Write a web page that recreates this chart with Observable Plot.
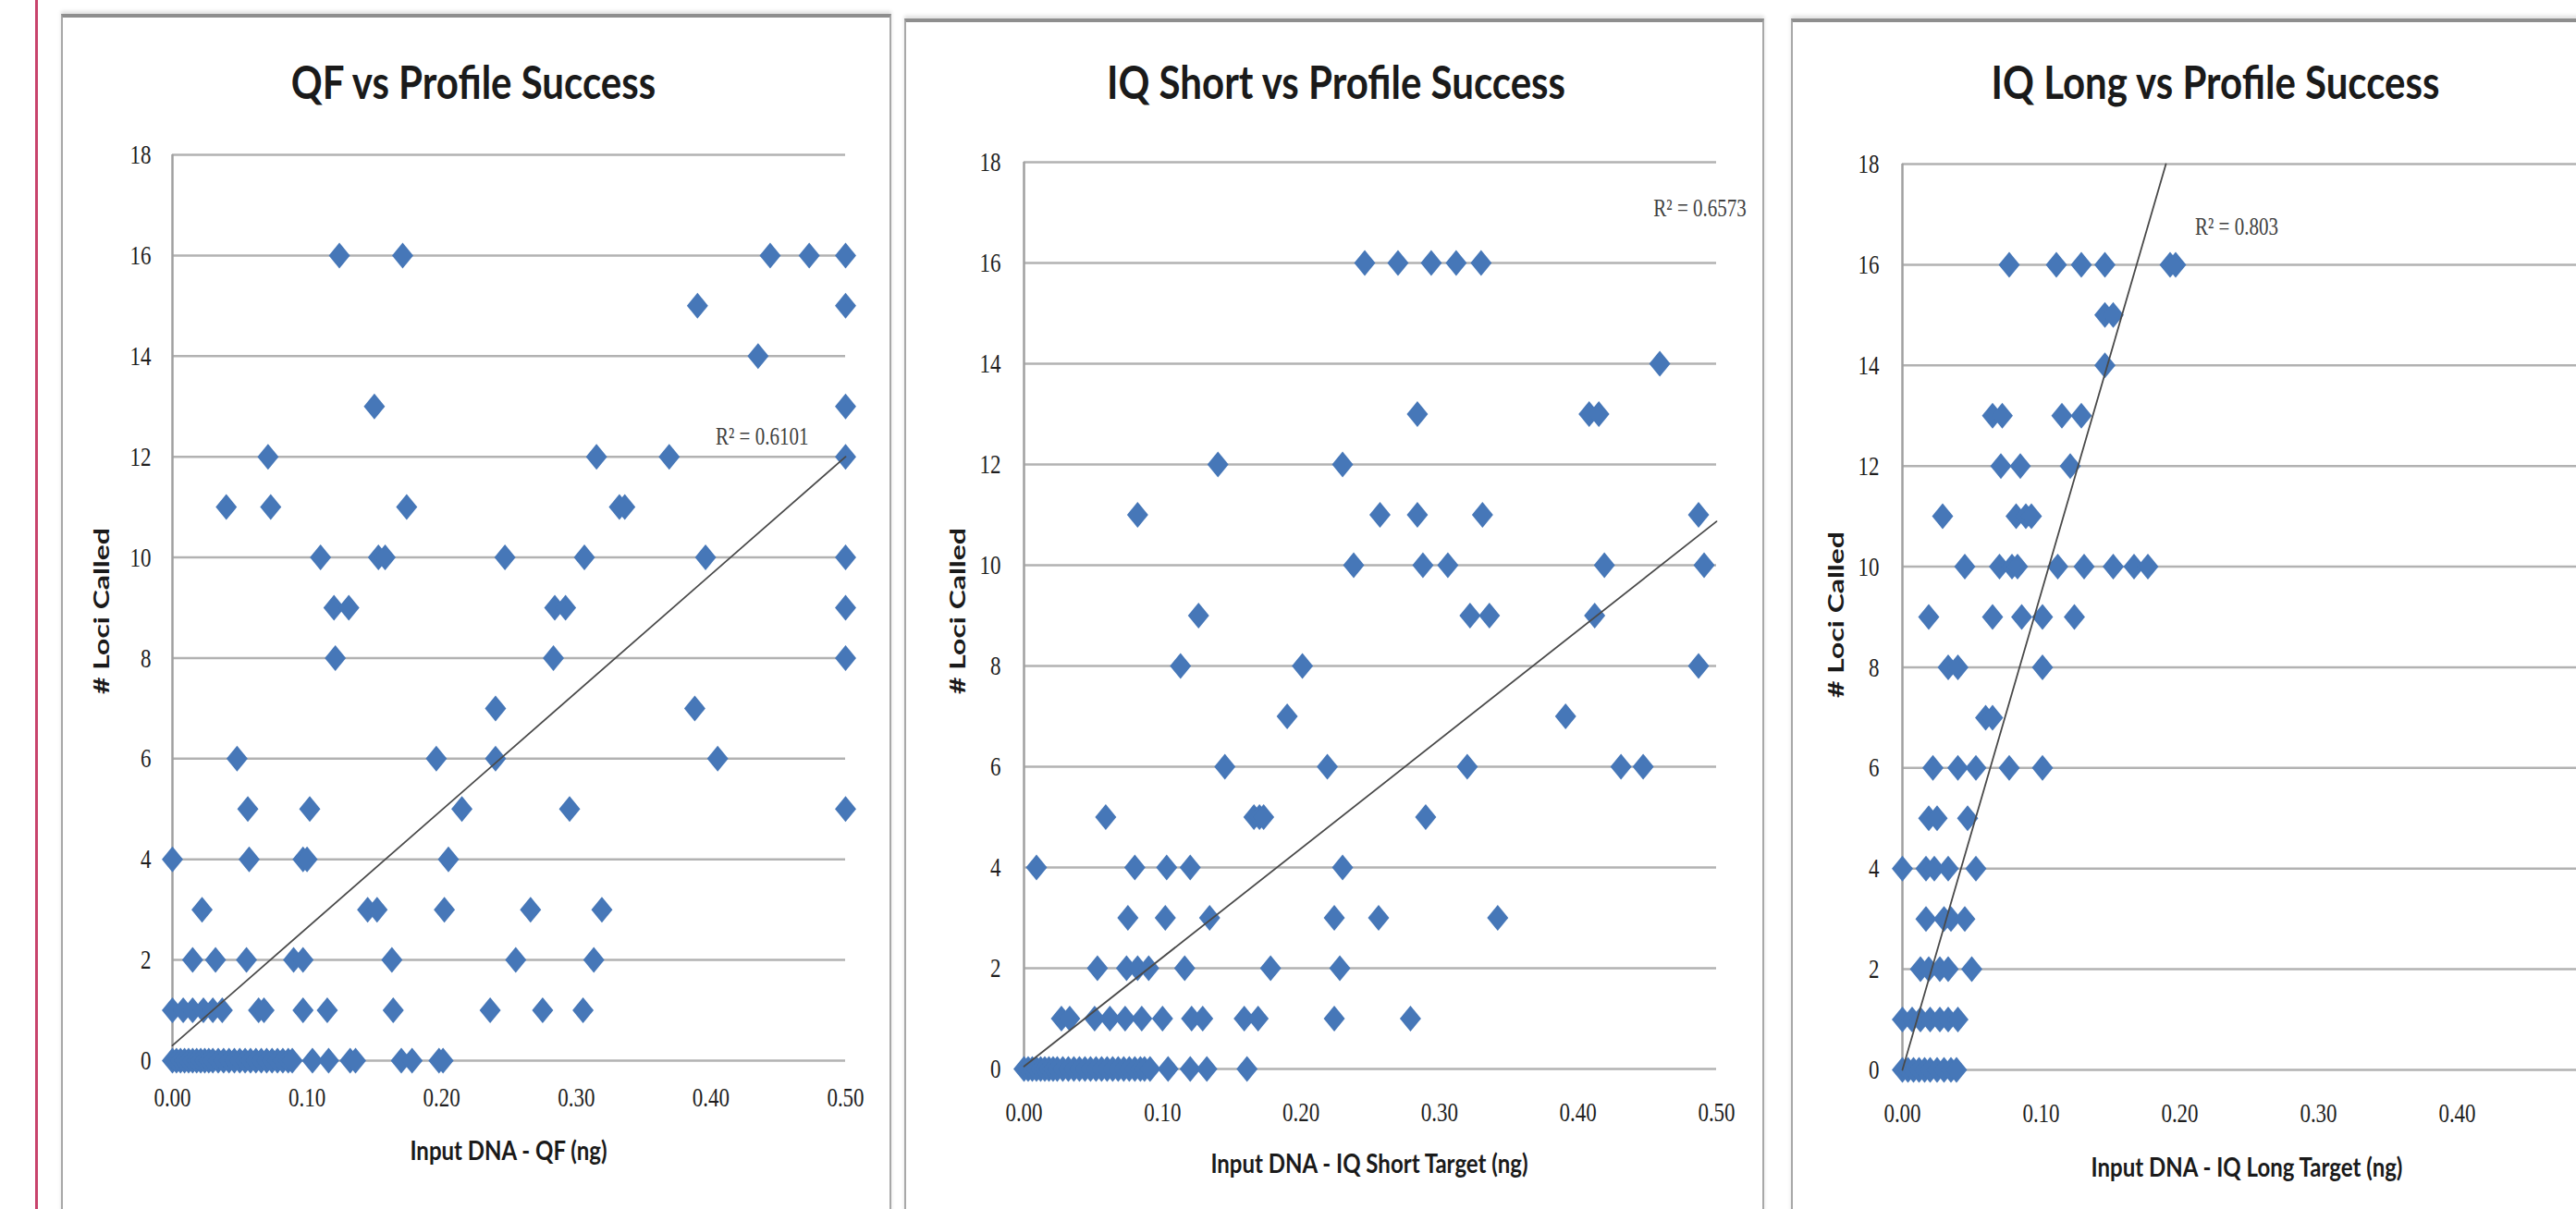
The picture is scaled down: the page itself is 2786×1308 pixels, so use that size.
<!DOCTYPE html>
<html>
<head>
<meta charset="utf-8">
<script src="https://cdn.jsdelivr.net/npm/d3@7"></script>
<script src="https://cdn.jsdelivr.net/npm/@observablehq/plot@0.6"></script>
<style>
  html, body { margin: 0; padding: 0; background: #fff; }
  body { width: 2786px; height: 1308px; position: relative; overflow: hidden; }
  .panel { position: absolute; background: #fff; box-sizing: border-box;
           border: 2px solid #a8a8a8; border-top: 4px solid #8e8e8e;
           box-shadow: 0 -3px 4px rgba(0,0,0,0.12); }
  .lbl { position: absolute; white-space: nowrap; font-family: Lato, "Open Sans", sans-serif;
         font-weight: 700; color: #1a1a1a; line-height: 1; }
  .title { font-size: 42px; transform: translate(-50%, -50%) scaleY(1.2); }
  .xt { font-size: 24px; transform: translate(-50%, -50%) scaleY(1.2); }
  .yt { font-size: 22px; transform: translate(-50%, -50%) rotate(-90deg) scaleX(1.45); }
  .edge { position: absolute; left: 38px; top: 0; width: 3px; height: 1308px; background: #c8436c; }
  svg.chart { position: absolute; background: transparent !important; overflow: visible; }
</style>
</head>
<body>
<div class="edge"></div>
<div class="panel" style="left:66px; top:15px; width:898px; height:1400px;"></div>
<div class="panel" style="left:978px; top:20px; width:930px; height:1400px;"></div>
<div class="panel" style="left:1937px; top:20px; width:1000px; height:1400px;"></div>
<script>
// ---------- data ----------
const lociLevels = [0, 1, 2, 3, 4, 5, 6, 7, 8, 9, 10, 11, 12, 13, 14, 15, 16];
const xTicks = [0, 0.1, 0.2, 0.3, 0.4, 0.5];
const yTicks = [0, 2, 4, 6, 8, 10, 12, 14, 16, 18];

// QF: input DNA (ng) for each # loci called level (index = loci)
const qfInputByLoci = [
  [0, 0.003, 0.006, 0.009, 0.012, 0.015, 0.018, 0.021, 0.024, 0.027, 0.030, 0.034, 0.038, 0.042, 0.046, 0.050, 0.054, 0.058, 0.062, 0.066, 0.070, 0.074, 0.078, 0.082, 0.086, 0.089, 0.104, 0.116, 0.132, 0.136, 0.170, 0.178, 0.198, 0.201],
  [0, 0.008, 0.015, 0.023, 0.030, 0.037, 0.064, 0.068, 0.097, 0.115, 0.164, 0.236, 0.275, 0.305],
  [0.015, 0.032, 0.055, 0.090, 0.097, 0.163, 0.255, 0.313],
  [0.022, 0.145, 0.152, 0.202, 0.266, 0.319],
  [0, 0.057, 0.097, 0.100, 0.205],
  [0.056, 0.102, 0.215, 0.295, 0.50],
  [0.048, 0.196, 0.240, 0.405],
  [0.240, 0.388],
  [0.121, 0.283, 0.50],
  [0.120, 0.131, 0.284, 0.292, 0.50],
  [0.110, 0.153, 0.158, 0.247, 0.306, 0.396, 0.50],
  [0.040, 0.073, 0.174, 0.332, 0.336],
  [0.071, 0.315, 0.369, 0.50],
  [0.150, 0.50],
  [0.435],
  [0.390, 0.50],
  [0.124, 0.171, 0.444, 0.473, 0.50]
];

// IQ Short target
const shortInputByLoci = [
  [0, 0.003, 0.006, 0.009, 0.012, 0.015, 0.018, 0.021, 0.024, 0.028, 0.032, 0.036, 0.040, 0.044, 0.048, 0.052, 0.056, 0.060, 0.064, 0.068, 0.072, 0.076, 0.080, 0.084, 0.087, 0.091, 0.104, 0.120, 0.132, 0.161],
  [0.027, 0.033, 0.051, 0.062, 0.073, 0.085, 0.100, 0.121, 0.129, 0.159, 0.169, 0.224, 0.279],
  [0.053, 0.074, 0.082, 0.090, 0.116, 0.178, 0.228],
  [0.075, 0.102, 0.134, 0.224, 0.256, 0.342],
  [0.009, 0.080, 0.103, 0.120, 0.230],
  [0.059, 0.166, 0.170, 0.173, 0.290],
  [0.145, 0.219, 0.320, 0.431, 0.447],
  [0.190, 0.391],
  [0.113, 0.201, 0.487],
  [0.126, 0.322, 0.336, 0.412],
  [0.238, 0.288, 0.306, 0.419, 0.491],
  [0.082, 0.257, 0.284, 0.331, 0.487],
  [0.140, 0.230],
  [0.284, 0.408, 0.415],
  [0.459],
  [],
  [0.246, 0.270, 0.294, 0.312, 0.330]
];

// IQ Long target
const longInputByLoci = [
  [0, 0.004, 0.008, 0.012, 0.016, 0.020, 0.025, 0.030, 0.035, 0.039],
  [0, 0.007, 0.013, 0.020, 0.027, 0.033, 0.040],
  [0.013, 0.019, 0.027, 0.033, 0.050],
  [0.017, 0.030, 0.035, 0.045],
  [0, 0.017, 0.023, 0.033, 0.053],
  [0.019, 0.025, 0.047],
  [0.022, 0.040, 0.053, 0.077, 0.101],
  [0.060, 0.065],
  [0.033, 0.040, 0.101],
  [0.019, 0.065, 0.086, 0.101, 0.124],
  [0.045, 0.070, 0.079, 0.083, 0.112, 0.131, 0.152, 0.167, 0.177],
  [0.029, 0.082, 0.089, 0.093],
  [0.071, 0.085, 0.121],
  [0.065, 0.072, 0.115, 0.129],
  [0.146],
  [0.146, 0.152],
  [0.077, 0.111, 0.129, 0.146, 0.193, 0.197]
];

// linear trend lines (end points)
const qfTrendX = [0, 0.5],    qfTrendY = [0.3, 12.0];
const shortTrendX = [0, 0.5], shortTrendY = [0.05, 10.87];
const longTrendX = [0, 0.19], longTrendY = [0, 18];

const titles = ["QF vs Profile Success", "IQ Short vs Profile Success", "IQ Long vs Profile Success"];
const xTitles = ["Input DNA - QF (ng)", "Input DNA - IQ Short Target (ng)", "Input DNA - IQ Long Target (ng)"];
const yTitle = "# Loci Called";
const r2Labels = ["R² = 0.6101", "R² = 0.6573", "R² = 0.803"];
const r2X = [0.438, 0.488, 0.241];
const r2Y = [12.4, 17.08, 16.75];

// ---------- drawing ----------
const diamond = {
  draw(ctx, size) {
    const r = Math.sqrt(size / Math.PI);
    const w = r * 0.82, h = r;
    ctx.moveTo(0, -h); ctx.lineTo(w, 0); ctx.lineTo(0, h); ctx.lineTo(-w, 0); ctx.closePath();
  }
};

function table(byLoci) {
  const out = [];
  byLoci.forEach((xs, i) => xs.forEach(x => out.push({input: x, loci: lociLevels[i]})));
  return out;
}
function trend(xs, ys) { return xs.map((x, i) => ({input: x, loci: ys[i]})); }

function stretchText(svg, k) {
  svg.querySelectorAll("text").forEach(t => {
    const b = t.getBBox();
    const cx = b.x + b.width / 2, cy = b.y + b.height / 2;
    const tr = t.getAttribute("transform") || "";
    t.setAttribute("transform", `${tr} translate(${cx},${cy}) scale(1,${k}) translate(${-cx},${-cy})`);
  });
}

const layouts = [
  {left: 70,   top: 130, width: 890, height: 1100, mt: 37, mb: 83, ml: 116, mr: 46, ypad: 23, xpad: 31},
  {left: 982,  top: 130, width: 921, height: 1100, mt: 45, mb: 74, ml: 125, mr: 47, ypad: 25, xpad: 38},
  {left: 1941, top: 130, width: 959, height: 1100, mt: 47, mb: 73, ml: 116, mr: 93, ypad: 25, xpad: 38}
];
const datasets = [table(qfInputByLoci), table(shortInputByLoci), table(longInputByLoci)];
const trends = [trend(qfTrendX, qfTrendY), trend(shortTrendX, shortTrendY), trend(longTrendX, longTrendY)];

layouts.forEach((L, i) => {
  const svg = Plot.plot({
    width: L.width, height: L.height,
    marginTop: L.mt, marginBottom: L.mb, marginLeft: L.ml, marginRight: L.mr,
    style: {fontFamily: "'Liberation Serif', serif", fontSize: "23px", color: "#1e1e1e", background: "transparent", overflow: "visible"},
    x: {domain: [0, 0.5], label: null},
    y: {domain: [0, 18], label: null},
    marks: [
      Plot.gridY(yTicks, {stroke: "#b2b2b2", strokeWidth: 2.5, strokeOpacity: 1}),
      Plot.ruleX([0], {stroke: "#a0a0a0", strokeWidth: 2.5}),
      Plot.axisY(yTicks, {tickSize: 0, tickPadding: L.ypad, tickFormat: d3.format("d"), label: null, fill: "#1e1e1e"}),
      Plot.axisX(xTicks, {tickSize: 0, tickPadding: L.xpad, tickFormat: d3.format(".2f"), label: null, fill: "#1e1e1e"}),
      Plot.dot(datasets[i], {x: "input", y: "loci", symbol: diamond, r: 14, fill: "#4677b8", stroke: "none"}),
      Plot.line(trends[i], {x: "input", y: "loci", stroke: "#4a4a4a", strokeWidth: 1.8}),
      Plot.text([r2Labels[i]], {x: () => r2X[i], y: () => r2Y[i], text: d => d, fontSize: 21, fill: "#404040", textAnchor: "middle"})
    ]
  });
  svg.classList.add("chart");
  svg.style.left = L.left + "px";
  svg.style.top = L.top + "px";
  document.body.appendChild(svg);
  stretchText(svg, 1.3);
});

// titles and axis titles
const titlePos = [[512, 88], [1445, 88], [2396, 88]];
const xTitlePos = [[550, 1244], [1481, 1258], [2430, 1262]];
const yTitlePos = [[110, 661], [1036, 661], [1986, 665]];
function addLabel(cls, text, [x, y]) {
  const d = document.createElement("div");
  d.className = "lbl " + cls;
  d.textContent = text;
  d.style.left = x + "px";
  d.style.top = y + "px";
  document.body.appendChild(d);
}
titles.forEach((t, i) => addLabel("title", t, titlePos[i]));
xTitles.forEach((t, i) => addLabel("xt", t, xTitlePos[i]));
yTitlePos.forEach(p => addLabel("yt", yTitle, p));
</script>
</body>
</html>
